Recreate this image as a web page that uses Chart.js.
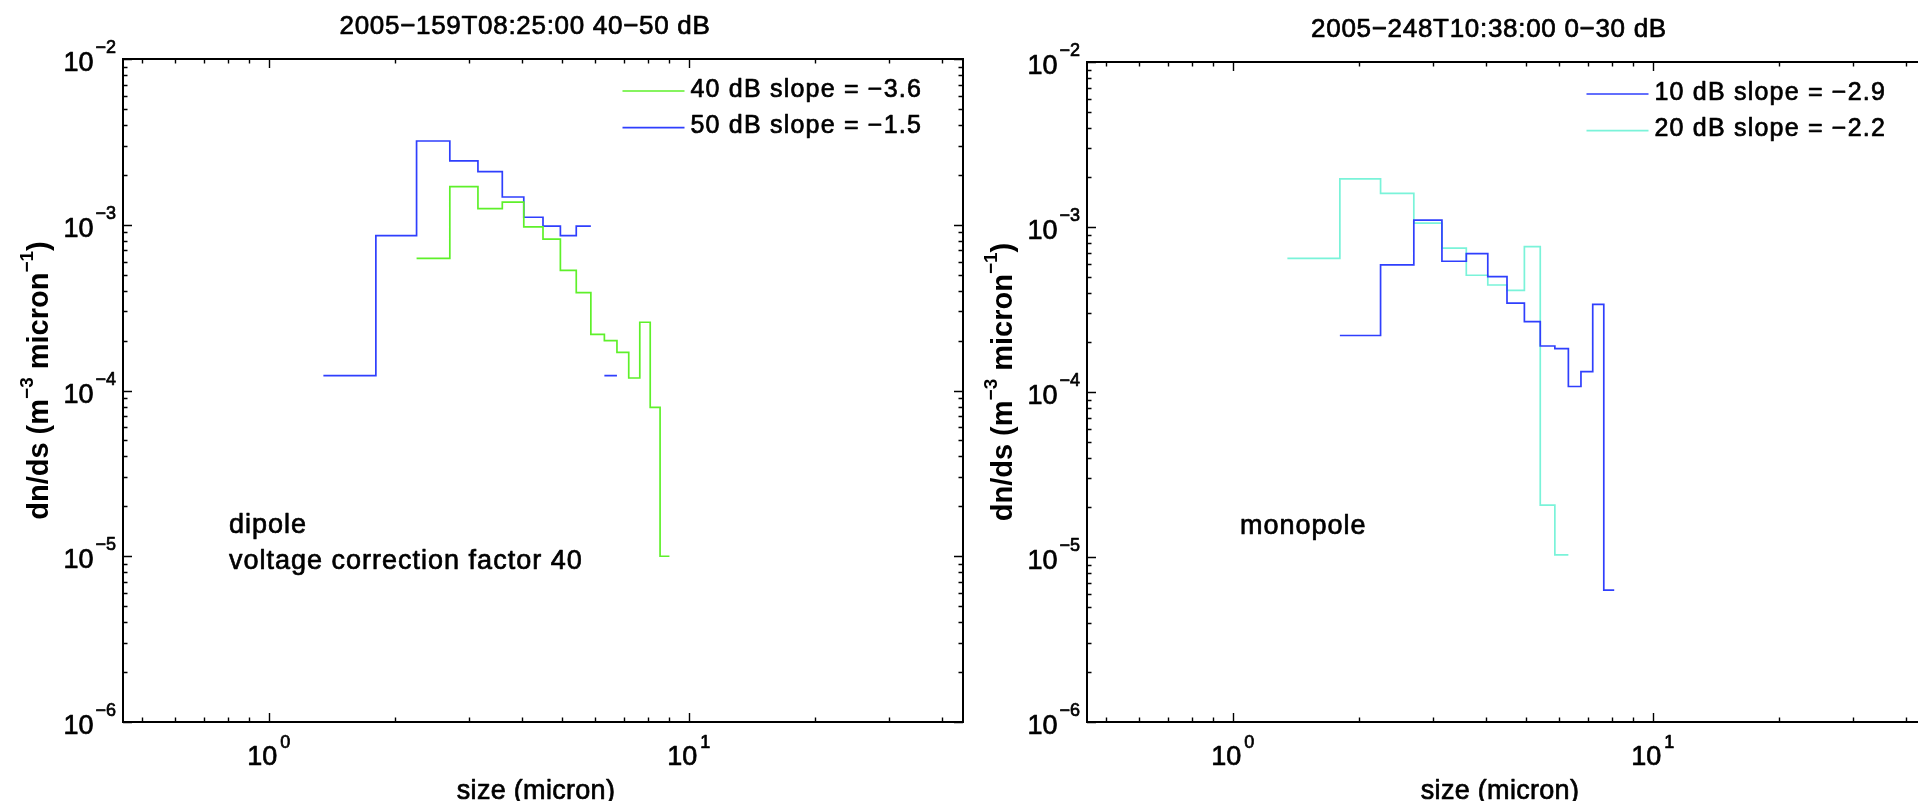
<!DOCTYPE html>
<html>
<head>
<meta charset="utf-8">
<script src="https://cdn.jsdelivr.net/npm/chart.js@4/dist/chart.umd.min.js"></script>
<style>
html,body{margin:0;padding:0;background:#fff;width:1918px;height:801px;overflow:hidden;}
canvas{position:absolute;top:0;}
#c1{left:0px;}
#c2{left:950px;}
</style>
</head>
<body>
<canvas id="c1" width="1000" height="801"></canvas>
<canvas id="c2" width="990" height="801"></canvas>
<script>
// ---- data ----
const binEdges = [1.35, 1.80, 2.25, 2.70, 3.15, 3.60, 4.05, 4.50, 4.95, 5.40, 5.85, 6.30, 6.75, 7.20, 7.65, 8.10, 8.55, 9.00];
const dipole40dB = [null, null, 6.27e-4, 1.70e-3, 1.25e-3, 1.37e-3, 9.7e-4, 8.2e-4, 5.3e-4, 3.9e-4, 2.18e-4, 2.0e-4, 1.70e-4, 1.19e-4, 2.58e-4, 7.9e-5, 1.0e-5];
const dipole50dB = [1.23e-4, 8.6e-4, 3.2e-3, 2.43e-3, 2.09e-3, 1.47e-3, 1.11e-3, 9.8e-4, 8.6e-4, 9.8e-4, null, 1.23e-4, null, null, null, null, null];
const monopole10dB = [null, 2.2e-4, 5.9e-4, 1.10e-3, 6.2e-4, 6.9e-4, 5.0e-4, 3.46e-4, 2.67e-4, 1.9e-4, 1.83e-4, 1.08e-4, 1.33e-4, 3.4e-4, 6.3e-6, null, null];
const monopole20dB = [6.45e-4, 1.96e-3, 1.60e-3, 1.055e-3, 7.45e-4, 5.1e-4, 4.45e-4, 4.13e-4, 7.6e-4, 2.06e-5, 1.03e-5, null, null, null, null, null, null];

const leftTitle = '2005\u2212159T08:25:00 40\u221250 dB';
const rightTitle = '2005\u2212248T10:38:00 0\u221230 dB';
const leftLabels = ['40 dB slope = \u22123.6', '50 dB slope = \u22121.5'];
const rightLabels = ['10 dB slope = \u22122.9', '20 dB slope = \u22122.2'];
const leftNotes = ['dipole', 'voltage correction factor 40'];
const rightNotes = ['monopole'];
const xTitle = 'size (micron)';

// ---- axis ticks ----
const xMin = 0.45, xMax = 45, yMin = 1e-6, yMax = 1e-2;
const xMajorTicks = [1, 10];
const xMajorExponents = ['0', '1'];
const xMinorTicks = [0.5, 0.6, 0.7, 0.8, 0.9, 2, 3, 4, 5, 6, 7, 8, 9, 20, 30, 40];
const yMajorTicks = [1e-6, 1e-5, 1e-4, 1e-3, 1e-2];
const yMajorExponents = ['\u22126', '\u22125', '\u22124', '\u22123', '\u22122'];
const yMinorTicks = [2e-6, 3e-6, 4e-6, 5e-6, 6e-6, 7e-6, 8e-6, 9e-6,
                     2e-5, 3e-5, 4e-5, 5e-5, 6e-5, 7e-5, 8e-5, 9e-5,
                     2e-4, 3e-4, 4e-4, 5e-4, 6e-4, 7e-4, 8e-4, 9e-4,
                     2e-3, 3e-3, 4e-3, 5e-3, 6e-3, 7e-3, 8e-3, 9e-3];

const GREEN = '#5ef02a', BLUE = '#2f3ffd', CYAN = '#7af3d9';
const FONT = '"Liberation Sans", Arial, Helvetica, sans-serif';

function stepPoints(edges, vals) {
  const pts = [];
  for (let i = 0; i < vals.length; i++) {
    const v = vals[i];
    if (v == null) {
      if (pts.length && pts[pts.length - 1].y != null) pts.push({x: edges[i], y: null});
      continue;
    }
    pts.push({x: edges[i], y: v});
    pts.push({x: edges[i + 1], y: v});
  }
  return pts;
}

function setSpacing(ctx, px) { if ('letterSpacing' in ctx) ctx.letterSpacing = px + 'px'; }
function txt(ctx, s, x, y) { ctx.fillText(s, x, y); ctx.strokeText(s, x, y); }

function decor(extra) {
  return {
    id: 'decor',
    afterDraw(chart) {
      const ctx = chart.ctx, a = chart.chartArea, xs = chart.scales.x, ys = chart.scales.y;
      ctx.save();
      // tick marks (inward, all four sides)
      ctx.strokeStyle = '#000';
      ctx.lineWidth = 1.4;
      ctx.beginPath();
      const xt = (vals, len) => vals.forEach(v => { const p = Math.round(xs.getPixelForValue(v)) + 0.5;
        ctx.moveTo(p, a.bottom); ctx.lineTo(p, a.bottom - len); ctx.moveTo(p, a.top); ctx.lineTo(p, a.top + len); });
      const yt = (vals, len) => vals.forEach(v => { const p = Math.round(ys.getPixelForValue(v)) + 0.5;
        ctx.moveTo(a.left, p); ctx.lineTo(a.left + len, p); ctx.moveTo(a.right, p); ctx.lineTo(a.right - len, p); });
      xt(xMajorTicks, 9); xt(xMinorTicks, 4.5);
      yt(yMajorTicks, 9); yt(yMinorTicks, 4.5);
      ctx.stroke();
      // box
      ctx.lineWidth = 2;
      ctx.strokeRect(a.left, a.top, a.right - a.left, a.bottom - a.top);

      ctx.fillStyle = '#000';
      ctx.strokeStyle = '#000';
      ctx.lineWidth = 0.7;
      ctx.lineJoin = 'round';
      ctx.textAlign = 'left';
      ctx.textBaseline = 'alphabetic';
      // x tick labels
      xMajorTicks.forEach((v, i) => {
        const p = xs.getPixelForValue(v);
        ctx.font = '27px ' + FONT; const w10 = ctx.measureText('10').width;
        ctx.font = '18px ' + FONT; const we = ctx.measureText(xMajorExponents[i]).width;
        const tot = w10 + 3 + we, x0 = p - tot / 2;
        ctx.font = '27px ' + FONT; txt(ctx, '10', x0, a.bottom + 43);
        ctx.font = '18px ' + FONT; txt(ctx, xMajorExponents[i], x0 + w10 + 3, a.bottom + 26);
      });
      // y tick labels
      yMajorTicks.forEach((v, i) => {
        const p = ys.getPixelForValue(v);
        ctx.font = '27px ' + FONT; const w10 = ctx.measureText('10').width;
        ctx.font = '18px ' + FONT; const we = ctx.measureText(yMajorExponents[i]).width;
        const right = a.left - 7;
        ctx.font = '18px ' + FONT; txt(ctx, yMajorExponents[i], right - we, p - 6);
        ctx.font = '27px ' + FONT; txt(ctx, '10', right - we - 2 - w10, p + 12);
      });
      // title
      ctx.font = '26px ' + FONT; setSpacing(ctx, 0.7);
      ctx.textAlign = 'center';
      txt(ctx, extra.title, (a.left + a.right) / 2 - 18, a.top - 25);
      // x axis title
      ctx.font = '27px ' + FONT; setSpacing(ctx, 0.3);
      txt(ctx, xTitle, (a.left + a.right) / 2 - 7, a.bottom + 77);
      setSpacing(ctx, 0);
      // y axis title with superscripts
      const segs = [
        {t: 'dn/ds (m', f: 'bold 29px ' + FONT, dy: 0},
        {t: '\u22123', f: 'bold 19px ' + FONT, dy: -15},
        {t: ' micron', f: 'bold 29px ' + FONT, dy: 0},
        {t: '\u22121', f: 'bold 19px ' + FONT, dy: -15},
        {t: ')', f: 'bold 29px ' + FONT, dy: 0}
      ];
      let tot = 0;
      segs.forEach(s => { ctx.font = s.f; s.w = ctx.measureText(s.t).width; tot += s.w; });
      ctx.save();
      ctx.translate(a.left - 75, (a.top + a.bottom) / 2 - 10);
      ctx.rotate(-Math.PI / 2);
      ctx.textAlign = 'left';
      let u = -tot / 2;
      segs.forEach(s => { ctx.font = s.f; ctx.fillText(s.t, u, s.dy); u += s.w; });
      ctx.restore();
      // notes
      ctx.textAlign = 'left';
      ctx.font = '27px ' + FONT; setSpacing(ctx, 1);
      extra.notes.forEach((n, i) => txt(ctx, n, a.left + extra.noteX, a.top + extra.noteY + i * 36));
      // legend
      chart.data.datasets.forEach((d, i) => {
        const ly = a.top + 32 + i * 36.7;
        ctx.strokeStyle = d.borderColor; ctx.lineWidth = 1.7;
        ctx.beginPath(); ctx.moveTo(a.left + 499.5, ly); ctx.lineTo(a.left + 561.5, ly); ctx.stroke();
        ctx.strokeStyle = '#000'; ctx.lineWidth = 0.7;
        ctx.font = '25px ' + FONT; setSpacing(ctx, 1.2);
        txt(ctx, d.label, a.left + 567.5, ly + 5.7);
        setSpacing(ctx, 0);
      });
      ctx.restore();
    }
  };
}

function makeChart(id, g, series, extra) {
  return new Chart(document.getElementById(id), {
    type: 'line',
    data: {
      datasets: series.map(s => ({
        label: s.label, data: stepPoints(binEdges, s.values),
        borderColor: s.color, borderWidth: 1.7, pointRadius: 0, tension: 0,
        spanGaps: false, fill: false
      }))
    },
    options: {
      responsive: false, animation: false, events: [],
      layout: {padding: {top: g.top, right: g.right, left: 0, bottom: 0}},
      plugins: {legend: {display: false}, title: {display: false}, tooltip: {enabled: false}},
      scales: {
        x: {type: 'logarithmic', min: xMin, max: xMax, ticks: {display: false},
            grid: {display: false}, border: {display: false}, afterFit(s) { s.height = g.bottom; }},
        y: {type: 'logarithmic', min: yMin, max: yMax, ticks: {display: false},
            grid: {display: false}, border: {display: false}, afterFit(s) { s.width = g.left; }}
      }
    },
    plugins: [decor(extra)]
  });
}

makeChart('c1', {left: 123, top: 59, right: 37, bottom: 79},
  [{label: leftLabels[0], values: dipole40dB, color: GREEN},
   {label: leftLabels[1], values: dipole50dB, color: BLUE}],
  {title: leftTitle, notes: leftNotes, noteX: 106, noteY: 474});

makeChart('c2', {left: 137, top: 62, right: 13, bottom: 79},
  [{label: rightLabels[0], values: monopole10dB, color: BLUE},
   {label: rightLabels[1], values: monopole20dB, color: CYAN}],
  {title: rightTitle, notes: rightNotes, noteX: 153, noteY: 472});
</script>
</body>
</html>
